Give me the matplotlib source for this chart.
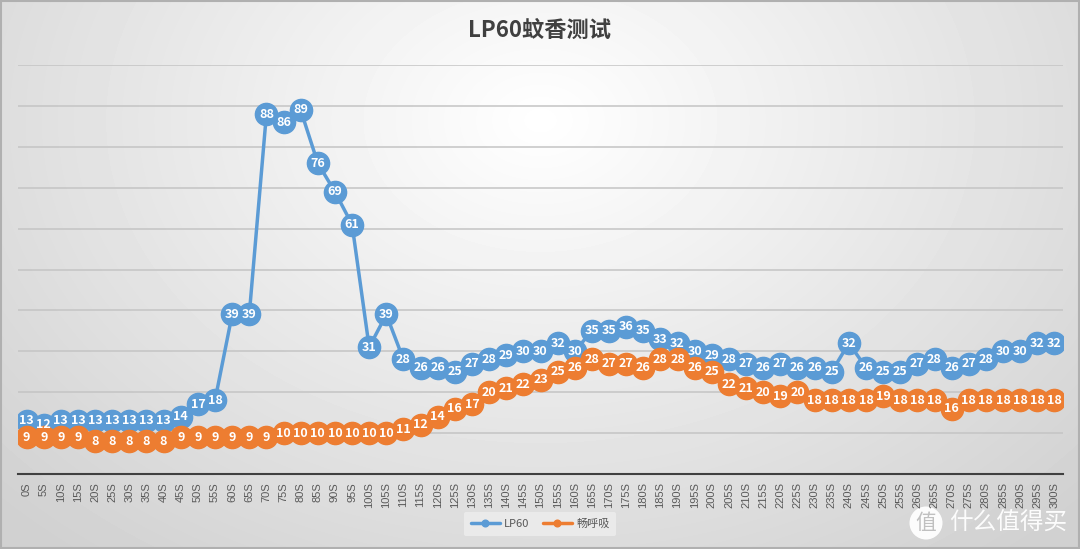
import numpy as np
import matplotlib
matplotlib.use("Agg")
import matplotlib.pyplot as plt
from matplotlib.patches import Ellipse, Rectangle

plt.rcParams['font.family'] = ['Noto Sans CJK SC', 'DejaVu Sans']

# data
seconds = ["%dS" % s for s in range(0, 301, 5)]
lp60 = [13, 12, 13, 13, 13, 13, 13, 13, 13, 14, 17, 18, 39, 39, 88, 86, 89, 76, 69, 61,
        31, 39, 28, 26, 26, 25, 27, 28, 29, 30, 30, 32, 30, 35, 35, 36, 35, 33, 32, 30,
        29, 28, 27, 26, 27, 26, 26, 25, 32, 26, 25, 25, 27, 28, 26, 27, 28, 30, 30, 32, 32]
changhuxi = [9, 9, 9, 9, 8, 8, 8, 8, 8, 9, 9, 9, 9, 9, 9, 10, 10, 10, 10, 10,
             10, 10, 11, 12, 14, 16, 17, 20, 21, 22, 23, 25, 26, 28, 27, 27, 26, 28, 28, 26,
             25, 22, 21, 20, 19, 20, 18, 18, 18, 18, 19, 18, 18, 18, 16, 18, 18, 18, 18, 18, 18]
series_names = ["LP60", "畅呼吸"]
colors = ["#5B9BD5", "#ED7D31"]

fig = plt.figure(figsize=(10.8, 5.49), dpi=100)

# background radial gradient
bg = fig.add_axes([0, 0, 1, 1], zorder=-10)
yy, xx = np.mgrid[0:549, 0:1080]
r = np.sqrt(((xx - 540) / 700.0) ** 2 + ((yy - 120) / 520.0) ** 2)
shade = np.clip(1.0 - 0.17 * r, 0.82, 1.0)
bg.imshow(shade, cmap="gray", vmin=0, vmax=1, aspect="auto", extent=[0, 1, 0, 1])
bg.add_patch(Rectangle((0.001, 0.002), 0.998, 0.996, fill=False, edgecolor="#b0b0b0",
                       lw=1.5, transform=bg.transAxes))
bg.set_axis_off()

ax = fig.add_axes([18 / 1080, 1 - 474 / 549, 1045 / 1080, 409 / 549])
ax.patch.set_alpha(0)
x = np.arange(len(seconds))

for vals, name, c in zip([lp60, changhuxi], series_names, colors):
    ax.plot(x, vals, color=c, lw=2.5, marker="o", markersize=16, label=name,
            solid_capstyle="round", zorder=3)
    for xi, v in zip(x, vals):
        ax.text(xi, v, str(v), color="white", fontsize=9, fontweight="bold",
                ha="center", va="center", zorder=4)

ax.set_xlim(-0.5, len(seconds) - 0.5)
ax.set_ylim(0, 100)
ax.set_yticks(np.arange(0, 101, 10))
ax.yaxis.grid(True, color="#c4c4c4", lw=1.1)
ax.set_axisbelow(True)
ax.tick_params(axis="y", left=False, labelleft=False)
ax.set_xticks(x)
ax.set_xticklabels(seconds, rotation=90, fontsize=8, color="#595959",
                   family=["Liberation Sans", "DejaVu Sans"])
ax.tick_params(axis="x", length=0, pad=6)
for s in ["top", "right", "left"]:
    ax.spines[s].set_visible(False)
ax.spines["bottom"].set_color("#404040")
ax.spines["bottom"].set_linewidth(1.5)

fig.text(0.5, 1 - 30 / 549, "LP60蚊香测试", ha="center", va="center", fontsize=16,
         fontweight="bold", color="#404040")

leg = fig.legend(loc="center", bbox_to_anchor=(0.5, 1 - 524 / 549), ncol=2,
                 frameon=True, fontsize=8, markerscale=0.3, handlelength=2.6,
                 columnspacing=1.2, handletextpad=0.4, borderpad=0.6)
leg.get_frame().set_facecolor("#ececec")
leg.get_frame().set_edgecolor("none")
leg.get_frame().set_alpha(0.9)
for t in leg.get_texts():
    t.set_color("#595959")

# watermark
bg.add_patch(Ellipse((926 / 1080, 1 - 523 / 549), 33 / 1080, 33 / 549,
                     transform=bg.transAxes, facecolor="white", edgecolor="none", alpha=0.95))
bg.text(926 / 1080, 1 - 523 / 549, "值", color="#c0c0c0", fontsize=15, ha="center",
        va="center", transform=bg.transAxes)
bg.text(1008 / 1080, 1 - 523 / 549, "什么值得买", color="white", fontsize=17, ha="center",
        va="center", transform=bg.transAxes, alpha=0.95)

fig.savefig("out.png", dpi=100)
